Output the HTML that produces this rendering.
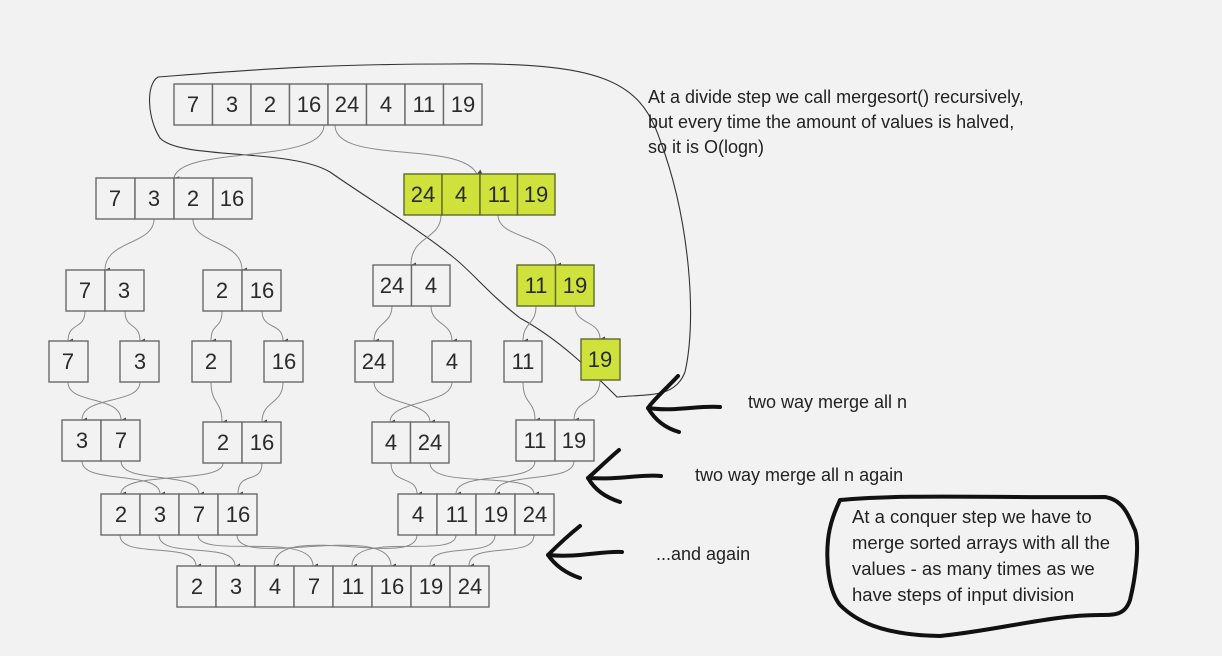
<!DOCTYPE html>
<html><head><meta charset="utf-8"><style>
html,body{margin:0;padding:0;background:#f2f2f2;}
svg{display:block;}
.c{fill:#f2f2f2;stroke:#6a6a6a;stroke-width:1.4;}
.g{fill:#cfe23c;stroke:#5e6a2a;stroke-width:1.4;}
.t{font-family:"Liberation Sans",sans-serif;font-size:22px;fill:#2a2a2a;text-anchor:middle;}
.k{fill:none;stroke:#8a8a8a;stroke-width:1;marker-end:url(#ah);}
.a{font-family:"Liberation Sans",sans-serif;font-size:18px;fill:#222;}
.b{font-family:"Liberation Sans",sans-serif;font-size:18.5px;fill:#222;}
.th{fill:none;stroke:#111;stroke-width:4;stroke-linecap:round;stroke-linejoin:round;}
</style></head><body>
<svg width="1222" height="656" viewBox="0 0 1222 656" xmlns="http://www.w3.org/2000/svg">
<defs><marker id="ah" markerWidth="6" markerHeight="6" refX="3" refY="5" orient="auto" markerUnits="userSpaceOnUse"><path d="M0.5,0 L3,5 L5.5,0" fill="#444"/></marker></defs>

<!-- big loop -->
<path d="M617 397 C590 370,560 340,520 318 C490 295,470 270,453 257 C420 230,370 200,330 172 C290 148,180 160,160 138 C148 120,145 85,158 77 C250 70,320 64,450 64 C600 62,640 80,660 140 C690 220,697 320,685 372 C675 398,650 394,617 397 Z" fill="none" stroke="#333" stroke-width="1.1"/>

<!-- connectors -->
<g>
<path class="k" d="M324 125 C324 165,180 145,174 178"/>
<path class="k" d="M335 125 C335 165,460 140,477 174"/>
<path class="k" d="M154 219 C154 245,105 240,105 270"/>
<path class="k" d="M193 219 C193 245,242 240,242 270"/>
<path class="k" d="M441 215 C441 240,411 235,411 265"/>
<path class="k" d="M498 215 C498 240,556 235,556 265"/>
<path class="k" d="M85 311 C85 330,68 322,68 341"/>
<path class="k" d="M125 311 C125 330,140 322,140 341"/>
<path class="k" d="M222 311 C222 330,211 322,211 341"/>
<path class="k" d="M262 311 C262 330,283 322,283 341"/>
<path class="k" d="M392 306 C392 325,374 322,374 341"/>
<path class="k" d="M431 306 C431 325,452 322,452 341"/>
<path class="k" d="M536 306 C536 325,523 322,523 341"/>
<path class="k" d="M575 306 C575 325,600 320,600 339"/>
<path class="k" d="M68 382 C68 405,121 395,121 420"/>
<path class="k" d="M140 382 C140 405,82 395,82 420"/>
<path class="k" d="M211 382 C211 405,222 400,222 422"/>
<path class="k" d="M283 382 C283 405,262 400,262 422"/>
<path class="k" d="M374 382 C374 405,430 400,430 422"/>
<path class="k" d="M452 382 C452 405,390 400,390 422"/>
<path class="k" d="M523 382 C523 405,535 400,535 420"/>
<path class="k" d="M600 380 C600 405,574 398,574 420"/>
<path class="k" d="M82 461 C82 485,160 470,160 494"/>
<path class="k" d="M121 461 C121 485,199 470,199 494"/>
<path class="k" d="M223 463 C223 485,121 470,121 494"/>
<path class="k" d="M262 463 C262 485,238 470,238 494"/>
<path class="k" d="M391 463 C391 485,417 475,417 494"/>
<path class="k" d="M430 463 C430 490,534 470,534 494"/>
<path class="k" d="M535 461 C535 485,456 470,456 494"/>
<path class="k" d="M574 461 C574 485,495 470,495 494"/>
<path class="k" d="M120 535 C120 560,196 540,196 566"/>
<path class="k" d="M159 535 C159 560,235 540,235 566"/>
<path class="k" d="M198 535 C198 560,313 530,313 566"/>
<path class="k" d="M237 535 C237 570,391 520,391 566"/>
<path class="k" d="M417 535 C417 570,274 520,274 566"/>
<path class="k" d="M456 535 C456 560,352 530,352 566"/>
<path class="k" d="M495 535 C495 560,430 540,430 566"/>
<path class="k" d="M534 535 C534 560,469 540,469 566"/>
</g>

<!-- cells -->
<g id="cells">
<rect class="c" x="174" y="84" width="38.5" height="41"/><rect class="c" x="212.5" y="84" width="38.5" height="41"/><rect class="c" x="251" y="84" width="38.5" height="41"/><rect class="c" x="289.5" y="84" width="38.5" height="41"/><rect class="c" x="328" y="84" width="38.5" height="41"/><rect class="c" x="366.5" y="84" width="38.5" height="41"/><rect class="c" x="405" y="84" width="38.5" height="41"/><rect class="c" x="443.5" y="84" width="38.5" height="41"/>
<text class="t" x="193" y="112">7</text><text class="t" x="232" y="112">3</text><text class="t" x="270" y="112">2</text><text class="t" x="309" y="112">16</text><text class="t" x="347" y="112">24</text><text class="t" x="386" y="112">4</text><text class="t" x="424" y="112">11</text><text class="t" x="463" y="112">19</text>
<rect class="c" x="96" y="178" width="39" height="41"/><rect class="c" x="135" y="178" width="39" height="41"/><rect class="c" x="174" y="178" width="39" height="41"/><rect class="c" x="213" y="178" width="39" height="41"/>
<text class="t" x="115" y="206">7</text><text class="t" x="154" y="206">3</text><text class="t" x="193" y="206">2</text><text class="t" x="232" y="206">16</text>
<rect class="g" x="404" y="174" width="38" height="41"/><rect class="g" x="442" y="174" width="38" height="41"/><rect class="g" x="480" y="174" width="37.5" height="41"/><rect class="g" x="517.5" y="174" width="37.5" height="41"/>
<text class="t" x="423" y="202">24</text><text class="t" x="461" y="202">4</text><text class="t" x="499" y="202">11</text><text class="t" x="536" y="202">19</text>
<rect class="c" x="66" y="270" width="39" height="41"/><rect class="c" x="105" y="270" width="39" height="41"/>
<text class="t" x="85" y="298">7</text><text class="t" x="124" y="298">3</text>
<rect class="c" x="203" y="270" width="39" height="41"/><rect class="c" x="242" y="270" width="39" height="41"/>
<text class="t" x="222" y="298">2</text><text class="t" x="262" y="298">16</text>
<rect class="c" x="373" y="265" width="38.5" height="41"/><rect class="c" x="411.5" y="265" width="38.5" height="41"/>
<text class="t" x="392" y="293">24</text><text class="t" x="431" y="293">4</text>
<rect class="g" x="517" y="265" width="38.5" height="41"/><rect class="g" x="555.5" y="265" width="38.5" height="41"/>
<text class="t" x="536" y="293">11</text><text class="t" x="575" y="293">19</text>
<rect class="c" x="49" y="341" width="39" height="41"/><text class="t" x="68" y="369">7</text>
<rect class="c" x="120" y="341" width="39" height="41"/><text class="t" x="140" y="369">3</text>
<rect class="c" x="192" y="341" width="39" height="41"/><text class="t" x="211" y="369">2</text>
<rect class="c" x="264" y="341" width="39" height="41"/><text class="t" x="284" y="369">16</text>
<rect class="c" x="355" y="341" width="38" height="41"/><text class="t" x="374" y="369">24</text>
<rect class="c" x="432" y="341" width="39" height="41"/><text class="t" x="452" y="369">4</text>
<rect class="c" x="504" y="341" width="38" height="41"/><text class="t" x="523" y="369">11</text>
<rect class="g" x="581" y="339" width="39" height="41"/><text class="t" x="600" y="367">19</text>
<rect class="c" x="62" y="420" width="39" height="41"/><rect class="c" x="101" y="420" width="39" height="41"/>
<text class="t" x="82" y="448">3</text><text class="t" x="121" y="448">7</text>
<rect class="c" x="203" y="422" width="39" height="41"/><rect class="c" x="242" y="422" width="39" height="41"/>
<text class="t" x="223" y="450">2</text><text class="t" x="262" y="450">16</text>
<rect class="c" x="372" y="422" width="38.5" height="41"/><rect class="c" x="410.5" y="422" width="38.5" height="41"/>
<text class="t" x="391" y="450">4</text><text class="t" x="430" y="450">24</text>
<rect class="c" x="516" y="420" width="39" height="41"/><rect class="c" x="555" y="420" width="39" height="41"/>
<text class="t" x="535" y="448">11</text><text class="t" x="574" y="448">19</text>
<rect class="c" x="101" y="494" width="39" height="41"/><rect class="c" x="140" y="494" width="39" height="41"/><rect class="c" x="179" y="494" width="39" height="41"/><rect class="c" x="218" y="494" width="39" height="41"/>
<text class="t" x="121" y="522">2</text><text class="t" x="160" y="522">3</text><text class="t" x="199" y="522">7</text><text class="t" x="238" y="522">16</text>
<rect class="c" x="398" y="494" width="39" height="41"/><rect class="c" x="437" y="494" width="39" height="41"/><rect class="c" x="476" y="494" width="39" height="41"/><rect class="c" x="515" y="494" width="39" height="41"/>
<text class="t" x="418" y="522">4</text><text class="t" x="457" y="522">11</text><text class="t" x="496" y="522">19</text><text class="t" x="535" y="522">24</text>
<rect class="c" x="177" y="566" width="39" height="41"/><rect class="c" x="216" y="566" width="39" height="41"/><rect class="c" x="255" y="566" width="39" height="41"/><rect class="c" x="294" y="566" width="39" height="41"/><rect class="c" x="333" y="566" width="39" height="41"/><rect class="c" x="372" y="566" width="39" height="41"/><rect class="c" x="411" y="566" width="39" height="41"/><rect class="c" x="450" y="566" width="39" height="41"/>
<text class="t" x="197" y="594">2</text><text class="t" x="236" y="594">3</text><text class="t" x="275" y="594">4</text><text class="t" x="314" y="594">7</text><text class="t" x="353" y="594">11</text><text class="t" x="392" y="594">16</text><text class="t" x="431" y="594">19</text><text class="t" x="470" y="594">24</text>
</g>

<text class="a" x="648" y="103">At a divide step we call mergesort() recursively,</text>
<text class="a" x="648" y="128">but every time the amount of values is halved,</text>
<text class="a" x="648" y="153">so it is O(logn)</text>
<text class="a" x="748" y="408">two way merge all n</text>
<text class="a" x="695" y="481">two way merge all n again</text>
<text class="a" x="656" y="560">...and again</text>
<text class="b" x="852" y="523">At a conquer step we have to</text>
<text class="b" x="852" y="549">merge sorted arrays with all the</text>
<text class="b" x="852" y="575">values - as many times as we</text>
<text class="b" x="852" y="601">have steps of input division</text>

<path class="th" d="M720 407 C700 405,675 412,648 408 M678 376 C665 390,655 398,648 408 C655 420,665 428,679 432"/>
<path class="th" d="M661 476 C640 474,620 480,588 478 M619 450 C605 462,595 472,588 478 C595 490,605 497,620 502"/>
<path class="th" d="M622 552 C600 551,578 558,548 555 M580 526 C565 538,555 548,548 555 C555 565,565 573,580 578"/>
<path class="th" d="M840 500 C900 494,1000 498,1105 497 C1125 500,1130 520,1135 530 C1140 545,1135 580,1130 600 C1125 615,1115 615,1100 615 C1050 615,1000 630,940 636 C880 635,855 620,840 605 C828 590,826 560,828 540 C830 520,838 505,840 500 Z" stroke-width="3.5"/>
</svg>
</body></html>
